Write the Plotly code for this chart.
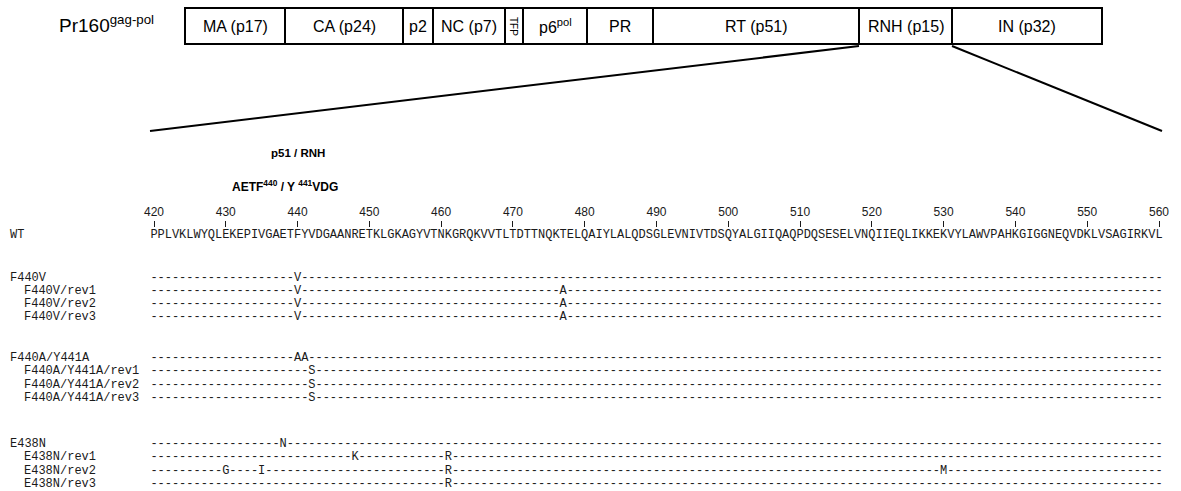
import plotly.graph_objects as go

# ---------------- data ----------------
domain_names = ["MA (p17)", "CA (p24)", "p2", "NC (p7)", "TFP", "p6<sup>pol</sup>",
                "PR", "RT (p51)", "RNH (p15)", "IN (p32)"]
domain_widths = [100, 118, 30, 72, 18, 64, 66, 206, 93, 150]  # drawn box widths (not to scale)

first_res = 420
last_res = 560
wt_seq = ("PPLVKLWYQLEKEPIVGAETFYVDGAANRETKLGKAGYVTNKGRQKVVTLTDTTNQKTEL"
          "QAIYLALQDSGLEVNIVTDSQYALGIIQAQPDQSESELVNQIIEQLIKKEKVYLAWVPAH"
          "KGIGGNEQVDKLVSAGIRKVL")
tick_vals = list(range(420, 561, 10))

row_names = ["WT",
             "F440V", "F440V/rev1", "F440V/rev2", "F440V/rev3",
             "F440A/Y441A", "F440A/Y441A/rev1", "F440A/Y441A/rev2", "F440A/Y441A/rev3",
             "E438N", "E438N/rev1", "E438N/rev2", "E438N/rev3"]
row_is_rev = [False,
              False, True, True, True,
              False, True, True, True,
              False, True, True, True]
row_mutations = [None,
                 {440: "V"}, {440: "V", 477: "A"}, {440: "V", 477: "A"}, {440: "V", 477: "A"},
                 {440: "A", 441: "A"}, {442: "S"}, {442: "S"}, {442: "S"},
                 {438: "N"}, {448: "K", 461: "R"}, {430: "G", 435: "I", 461: "R", 530: "M"},
                 {461: "R"}]

# ---------------- layout constants ----------------
W, H = 1181, 491
BOX_X0, BOX_Y, BOX_H = 185, 26, 36
ROW_Y = [235, 278, 291, 304, 317, 358, 371, 385, 398, 444, 457, 471, 484]
AXIS_Y = 227
RES_PX0, RES_PX1 = 154, 1159
px_per_res = (RES_PX1 - RES_PX0) / (last_res - first_res)
r0 = first_res - RES_PX0 / px_per_res
r1 = r0 + W / px_per_res
MONO = "Liberation Mono"
SANS = "Liberation Sans, Arial, sans-serif"
INK = "#1a1a1a"

fig = go.Figure()

# domain map of Pr160 gag-pol as stacked horizontal boxes
bases = []
acc = BOX_X0
for w in domain_widths:
    bases.append(acc)
    acc += w
fig.add_trace(go.Bar(
    x=domain_widths, base=bases, y=[BOX_Y] * len(domain_widths), orientation="h",
    width=BOX_H, marker=dict(color="white", line=dict(color="black", width=2)),
    xaxis="x2", yaxis="y", hoverinfo="skip", showlegend=False))

annotations = []
for name, b, w in zip(domain_names, bases, domain_widths):
    if name == "TFP":
        annotations.append(dict(x=b + w / 2, y=BOX_Y, xref="x2", yref="y", text=name,
                                showarrow=False, textangle=90,
                                font=dict(family=SANS, size=10, color="black")))
    else:
        annotations.append(dict(x=b + w / 2, y=BOX_Y, xref="x2", yref="y", text=name,
                                showarrow=False, font=dict(family=SANS, size=16, color="black")))

annotations.append(dict(x=57, y=24, xref="x2", yref="y", xanchor="left",
                        text="Pr160<sup>gag-pol</sup>", showarrow=False,
                        font=dict(family=SANS, size=19, color="black")))

# zoom lines from RNH box to the sequence window
rnh_i = domain_names.index("RNH (p15)")
rnh_left = bases[rnh_i]
rnh_right = bases[rnh_i] + domain_widths[rnh_i]
shapes = [
    dict(type="line", xref="x2", yref="y", x0=rnh_left, y0=BOX_Y + BOX_H / 2 + 2,
         x1=150, y1=131, line=dict(color="black", width=2)),
    dict(type="line", xref="x2", yref="y", x0=rnh_right, y0=BOX_Y + BOX_H / 2 + 2,
         x1=1162, y1=131, line=dict(color="black", width=2)),
]

annotations.append(dict(x=440, y=153, xref="x", yref="y", text="<b>p51 / RNH</b>",
                        showarrow=False, font=dict(family=SANS, size=11.5, color="black")))
annotations.append(dict(x=285, y=186, xref="x2", yref="y",
                        text="<b>AETF<sup>440</sup> / Y <sup>441</sup>VDG</b>",
                        showarrow=False, font=dict(family=SANS, size=12, color="black")))

# alignment rows
residues = list(range(first_res, last_res + 1))
for name, is_rev, muts, ry in zip(row_names, row_is_rev, row_mutations, ROW_Y):
    if muts is None:
        chars = list(wt_seq)
    else:
        chars = [muts.get(r, "-") for r in residues]
    fig.add_trace(go.Scatter(
        x=residues, y=[ry] * len(residues), mode="text", text=chars,
        textposition="middle center",
        textfont=dict(family=MONO, size=12, color=INK),
        xaxis="x", yaxis="y", hoverinfo="skip", showlegend=False, cliponaxis=False))
    annotations.append(dict(x=22 if is_rev else 8, y=ry, xref="x2", yref="y",
                            xanchor="left", text=name, showarrow=False,
                            font=dict(family=MONO, size=12, color=INK)))

fig.update_layout(
    width=W, height=H, autosize=False,
    margin=dict(l=0, r=0, t=0, b=0, pad=0),
    paper_bgcolor="white", plot_bgcolor="white", showlegend=False,
    xaxis=dict(range=[r0, r1], domain=[0, 1], anchor="free", position=1 - AXIS_Y / H,
               side="top", tickmode="array", tickvals=tick_vals, ticks="outside",
               ticklen=6, tickwidth=1, tickcolor=INK, showline=False, showgrid=False,
               zeroline=False, tickfont=dict(family=SANS, size=12, color=INK),
               fixedrange=True),
    xaxis2=dict(range=[0, W], overlaying="x", visible=False, anchor="y", fixedrange=True),
    yaxis=dict(range=[H, 0], domain=[0, 1], visible=False, fixedrange=True),
    annotations=annotations,
    shapes=shapes,
    barmode="overlay",
)

fig.write_html("out.html")
